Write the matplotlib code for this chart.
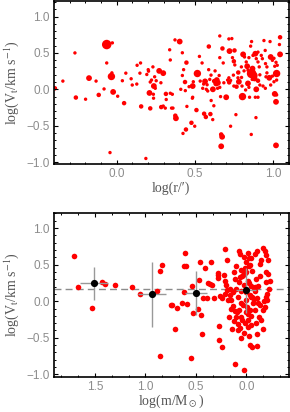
import numpy as np
import matplotlib
matplotlib.use('Agg')
import matplotlib.pyplot as plt
from matplotlib.ticker import MultipleLocator, AutoMinorLocator

# top panel: log(r), log(Vt), size class (1 small .. 5 huge)
r_log = [-0.394, -0.343, -0.266, -0.26, -0.198, -0.176, -0.131, -0.114, -0.08, -0.063,
         -0.027, -0.063, -0.033, -0.03, -0.022, 0.007, -0.042, 0.048, 0.037, 0.059,
         0.093, 0.10, 0.131, 0.153, 0.129, 0.149, 0.157, 0.187, 0.202, 0.204,
         0.193, 0.232, 0.215, 0.223, 0.238, 0.243, 0.21, 0.235, 0.236, 0.215,
         0.247, 0.253, 0.272, 0.283, 0.298, 0.285, 0.298, 0.315, 0.317, 0.311,
         0.339, 0.343, 0.343, 0.351, 0.373, 0.403, 0.42, 0.446, 0.428, 0.42,
         0.437, 0.41, 0.439, 0.356, 0.36, 0.375, 0.379, 0.424, 0.443, 0.478,
         0.486, 0.499, 0.486, 0.51, 0.516, 0.529, 0.546, 0.55, 0.559, 0.57,
         0.565, 0.578, 0.582, 0.595, 0.589, 0.599, 0.614, 0.621, 0.604, 0.629,
         0.623, 0.64, 0.636, 0.647, 0.655, 0.659, 0.664, 0.659, 0.676, 0.681,
         0.659, 0.668, 0.674, 0.668, 0.70, 0.717, 0.736, 0.721, 0.717, 0.728,
         0.719, 0.728, 0.74, 0.749, 0.755, 0.753, 0.762, 0.766, 0.777, 0.775,
         0.781, 0.798, 0.804, 0.808, 0.817, 0.828, 0.834, 0.839, 0.845, 0.849,
         0.866, 0.862, 0.868, 0.877, 0.881, 0.856, 0.862, 0.871, 0.886, 0.892,
         0.903, 0.911, 0.89, 0.86, 0.886, 0.903, 0.892, 0.903, 0.915, 0.915,
         0.924, 0.931, 0.941, 0.949, 0.951, 0.96, 0.96, 0.975, 0.984, 0.995,
         0.98, 1.005, 1.01, 1.018, 1.026, 1.022, 1.005, 1.022, 1.01, 1.022,
         1.018, 1.018, 1.044, 1.04, 1.044, 0.995, 0.95, 0.935, 0.824, 0.801,
         0.749, 0.685, 0.603, 0.588, 0.534, 0.49, 0.463, 0.449, 0.484, 0.556,
         0.573, 0.615, 0.645, 0.709, 0.746, 0.797, 0.814, 0.839, 0.845, 0.903,
         0.954, 0.984]
v_log_r = [0.014, 0.113, 0.50, -0.113, -0.136, 0.154, 0.113, -0.077, 0.005, 0.615,
           0.638, 0.362, 0.176, 0.226, -0.036, -0.095, -0.869, -0.19, 0.118, 0.222,
           0.145, 0.059, 0.33, 0.362, 0.072, 0.222, -0.235, -0.95, 0.27, 0.249,
           0.204, 0.308, 0.10, 0.127, 0.045, 0.172, -0.05, -0.068, -0.122, -0.262,
           0.014, 0.118, 0.253, 0.09, 0.222, -0.244, -0.23, -0.063, -0.14, -0.258,
           0.543, 0.403, -0.054, -0.258, 0.679, 0.656, 0.502, 0.367, 0.27, 0.19,
           0.10, 0.0, -0.018, -0.068, -0.258, -0.362, -0.398, -0.606, -0.552, -0.46,
           0.045, -0.507, -0.109, -0.285, 0.217, 0.452, 0.362, 0.014, -0.335, -0.38,
           0.109, 0.063, -0.023, 0.136, 0.588, -0.34, -0.416, -0.226, -0.154, 0.253,
           0.113, 0.127, 0.08, 0.09, 0.19, 0.027, -0.10, 0.435, 0.561, 0.362,
           0.733, -0.62, -0.652, -0.783, -0.109, 0.692, 0.697, 0.525, 0.158, 0.122,
           0.095, -0.507, 0.435, 0.385, 0.335, 0.534, -0.348, 0.036, 0.231, 0.158,
           0.104, 0.163, -0.10, 0.48, 0.444, 0.376, 0.317, 0.081, 0.027, -0.109,
           0.136, 0.217, 0.285, 0.19, 0.149, 0.593, 0.656, 0.466, 0.489, 0.421,
           0.376, 0.308, -0.389, -0.62, -0.109, -0.109, 0.0, 0.118, 0.059, 0.199,
           0.466, 0.421, 0.67, 0.534, 0.353, 0.308, 0.226, 0.158, 0.444, 0.398,
           0.656, 0.426, 0.317, 0.371, 0.33, 0.217, 0.104, 0.127, -0.063, -0.077,
           -0.172, -0.77, 0.715, 0.615, 0.48, 0.181, 0.014, 0.045, -0.009, 0.045,
           0.045, 0.09, 0.195, 0.27, 0.113, 0.104, 0.036, -0.235, -0.122, 0.072,
           0.0, 0.0, 0.014, 0.127, 0.195, 0.308, 0.253, 0.262, 0.435, 0.511,
           0.172, 0.059]
size_cls = [2, 1, 1, 2, 1, 3, 1, 2, 1, 5,
            1, 1, 4, 1, 3, 1, 1, 2, 1, 1,
            1, 1, 1, 1, 1, 1, 2, 1, 1, 1,
            1, 1, 1, 1, 3, 1, 3, 1, 1, 2,
            1, 1, 3, 1, 3, 2, 1, 2, 1, 1,
            1, 1, 1, 1, 1, 3, 1, 2, 1, 1,
            2, 1, 1, 1, 1, 2, 3, 1, 2, 2,
            3, 1, 1, 2, 4, 1, 1, 1, 2, 2,
            3, 1, 1, 1, 2, 2, 1, 1, 1, 1,
            2, 3, 3, 3, 1, 1, 1, 1, 2, 1,
            1, 2, 3, 3, 3, 1, 1, 3, 1, 1,
            2, 1, 1, 2, 1, 2, 1, 2, 2, 1,
            3, 1, 4, 3, 1, 1, 3, 3, 1, 1,
            1, 5, 3, 4, 3, 1, 1, 1, 3, 1,
            1, 1, 1, 1, 1, 1, 3, 2, 1, 1,
            1, 1, 1, 1, 1, 1, 1, 3, 3, 1,
            1, 1, 1, 1, 1, 4, 1, 1, 3, 1,
            3, 3, 2, 1, 3, 1, 1, 1, 1, 1,
            1, 1, 1, 1, 1, 1, 1, 1, 1, 1,
            1, 3, 1, 1, 1, 1, 1, 1, 1, 1,
            1, 1]
size_diam_px = {1: 3.4, 2: 4.5, 3: 5.8, 4: 7.4, 5: 9.5}

# bottom panel: log(m), log(Vt)
m_log = [1.705, 1.665, 1.533, 1.428, 1.398, 1.302, 1.137, 1.058, 0.88, 0.857,
         0.831, 0.857, 0.745, 0.607, 0.613, 0.6, 0.739, 0.686, 0.64, 0.584,
         0.613, 0.706, 0.544, 0.537, 0.528, 0.468, 0.455, 0.412, 0.353, 0.475,
         0.448, 0.425, 0.392, 0.439, 0.376, 0.36, 0.34, 0.32, 0.28, 0.277,
         0.28, 0.264, 0.241, 0.27, 0.27, 0.241, 0.208, 0.188, 0.224, 0.211,
         0.198, 0.191, 0.214, 0.165, 0.181, 0.148, 0.132, 0.155, 0.115, 0.171,
         0.125, 0.142, 0.082, 0.109, 0.026, 0.056, 0.026, -0.026, -0.04, -0.056,
         -0.106, -0.109, -0.168, 0.122, 0.099, 0.076, 0.066, -0.016, -0.049, -0.082,
         -0.106, -0.165, -0.181, -0.148, -0.198, -0.214, -0.132, -0.198, -0.214, -0.231,
         -0.198, -0.221, -0.198, -0.205, -0.172, -0.132, -0.165, -0.125, -0.082, -0.066,
         -0.049, -0.082, -0.115, -0.092, -0.132, -0.059, -0.033, 0.016, 0.04, 0.072,
         0.049, 0.082, 0.049, 0.072, 0.049, 0.016, -0.016, -0.049, -0.033, -0.007,
         0.007, -0.016, -0.049, 0.007, -0.026, 0.0, 0.03, 0.099, 0.132, 0.165,
         0.099, 0.066, -0.099, -0.148, -0.181, -0.205, -0.076, -0.106, 0.02, -0.02,
         0.06, -0.06, 0.03, -0.03, 0.09, -0.09, 0.0, 0.04, -0.04, 0.11,
         -0.11, 0.015, -0.015, 0.05, -0.05, 0.0, 0.025, -0.025, 0.08, -0.08]
v_log_m = [0.622, 0.198, -0.086, 0.266, 0.23, 0.221, 0.189, 0.095, 0.14, 0.41,
           0.495, -0.752, -0.054, 0.662, 0.486, 0.486, -0.054, -0.099, -0.027, -0.041,
           0.126, -0.374, -0.77, 0.207, -0.162, 0.293, 0.532, 0.455, 0.536, -0.113,
           -0.185, 0.05, 0.05, -0.446, 0.252, 0.23, 0.221, 0.05, 0.387, 0.36,
           0.32, 0.072, 0.05, -0.333, -0.536, -0.626, 0.716, 0.568, 0.36, 0.28,
           0.22, 0.16, 0.10, 0.08, 0.014, 0.014, -0.063, -0.108, -0.13, -0.22,
           -0.266, -0.378, -0.31, -0.856, -0.94, -0.5, -0.437, -0.482, -0.6, -0.62,
           -0.613, -0.455, -0.374, 0.40, 0.48, 0.68, 0.644, 0.658, 0.59, 0.644,
           0.68, 0.725, 0.689, 0.57, 0.635, 0.57, 0.505, 0.405, 0.37, 0.28,
           0.257, 0.167, 0.054, 0.1, 0.0, -0.05, -0.12, -0.21, -0.12, -0.03,
           0.054, 0.144, 0.212, 0.3, 0.345, 0.41, 0.5, 0.455, 0.345, 0.257,
           0.144, 0.054, -0.03, -0.12, -0.21, -0.3, -0.257, -0.32, -0.12, -0.077,
           0.013, 0.28, 0.21, 0.54, 0.59, 0.40, 0.36, 0.17, 0.126, 0.17,
           -0.22, -0.36, -0.30, -0.257, -0.077, 0.023, 0.032, 0.045, 0.22, -0.18,
           0.33, 0.06, -0.05, 0.25, -0.15, 0.2, 0.12, -0.25, 0.08, 0.3,
           -0.02, 0.38, -0.35, 0.42, -0.2, -0.15, 0.6, 0.48, -0.4, 0.18]

# binned means
bin_m = [1.507, 0.936, 0.498, 0.007]
bin_v = [0.243, 0.095, 0.108, 0.149]
bin_xerr = [0.14, 0.14, 0.11, 0.10]
bin_yerr = [0.225, 0.445, 0.30, 0.31]
v_mean = 0.167

plt.rcParams.update({
    'font.family': ['Liberation Sans', 'DejaVu Sans'],
    'mathtext.fontset': 'stix',
    'xtick.direction': 'in', 'ytick.direction': 'in',
    'xtick.top': True, 'ytick.right': True,
    'xtick.major.size': 3.2, 'ytick.major.size': 3.2,
    'xtick.minor.size': 1.7, 'ytick.minor.size': 1.7,
    'xtick.major.width': 0.8, 'ytick.major.width': 0.8,
    'xtick.minor.width': 0.7, 'ytick.minor.width': 0.7,
    'xtick.labelsize': 8.5, 'ytick.labelsize': 8.5,
    'xtick.labelcolor': '#8c8c8c', 'ytick.labelcolor': '#8c8c8c',
    'axes.linewidth': 1.2,
})
serif = ['Liberation Serif', 'DejaVu Serif']
lab_col = '#555555'

fig = plt.figure(figsize=(2.90, 4.12), dpi=100)
ax1 = fig.add_axes([0.186, 0.603, 0.810, 0.394])
ax2 = fig.add_axes([0.186, 0.086, 0.810, 0.396])

px2pt = 72.0 / 100
s_top = [(size_diam_px[c] * px2pt) ** 2 for c in size_cls]
ax1.scatter(r_log, v_log_r, s=s_top, c='#ff0000', linewidths=0, clip_on=True)
ax1.set_xlim(-0.40, 1.10)
ax1.set_ylim(-1.02, 1.21)
ax1.xaxis.set_major_locator(MultipleLocator(0.5))
ax1.xaxis.set_minor_locator(MultipleLocator(0.1))
ax1.set_xlabel('log(r/′)', family=serif, fontsize=10, color=lab_col, labelpad=1)

ax2.axhline(v_mean, color='#8c8c8c', ls=(0, (5, 3)), lw=1.0, zorder=1)
ax2.scatter(m_log, v_log_m, s=(5.6 * px2pt) ** 2, c='#ff0000', linewidths=0, zorder=2)
ax2.errorbar(bin_m, bin_v, xerr=bin_xerr, yerr=bin_yerr, fmt='none',
             ecolor='#999999', elinewidth=1.0, capsize=0, zorder=3)
ax2.scatter(bin_m, bin_v, s=(7.2 * px2pt) ** 2, c='black', linewidths=0, zorder=4)
ax2.set_xlim(1.905, -0.42)
ax2.set_ylim(-1.03, 1.20)
ax2.xaxis.set_major_locator(MultipleLocator(0.5))
ax2.xaxis.set_minor_locator(AutoMinorLocator(3))
ax2.set_xlabel(r'log(m/M$_\odot$)', family=serif, fontsize=10, color=lab_col, labelpad=0)

for ax in (ax1, ax2):
    ax.yaxis.set_major_locator(MultipleLocator(0.5))
    ax.yaxis.set_minor_locator(MultipleLocator(0.1))
    ax.tick_params(which='both', pad=3)
    ax.set_ylabel(r'log(V$_{\rm t}$/km s$^{-1}$)', family=serif, fontsize=10,
                  color=lab_col, labelpad=4)

fig.savefig('out.png', dpi=100)
